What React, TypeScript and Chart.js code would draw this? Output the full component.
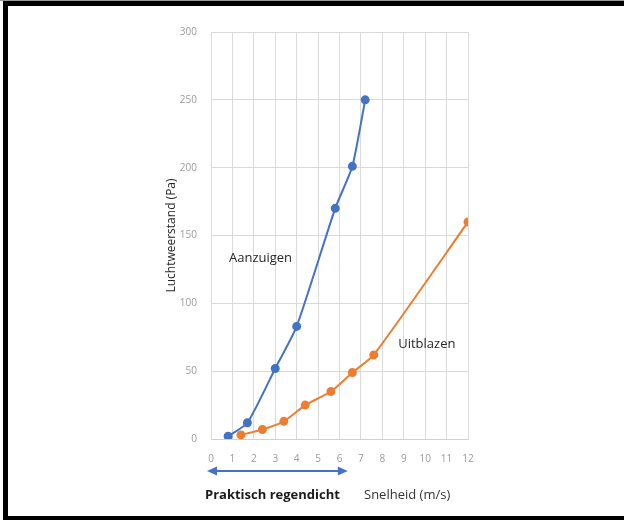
import React, { useEffect, useRef } from "react";
import { Chart, registerables } from "chart.js";

Chart.register(...registerables);

const aanzuigenX = [0.8, 1.7, 3.0, 4.0, 5.8, 6.6, 7.2];
const aanzuigenY = [2, 12, 52, 83, 170, 201, 250];
const uitblazenX = [1.4, 2.4, 3.4, 4.4, 5.6, 6.6, 7.6, 12];
const uitblazenY = [3, 7, 13, 25, 35, 49, 62, 160];
const xTicks = [0, 1, 2, 3, 4, 5, 6, 7, 8, 9, 10, 11, 12];
const yTicks = [0, 50, 100, 150, 200, 250, 300];

const BLUE = "#4472C4";
const ORANGE = "#ED7D31";
const FONT = "'Open Sans', 'Noto Sans', sans-serif";

const overlay = {
  id: "overlay",
  afterDraw(chart: any) {
    const ctx = chart.ctx;
    const xs = chart.scales.x;
    const ys = chart.scales.y;
    ctx.save();
    // series labels
    ctx.fillStyle = "#262626";
    ctx.font = `13px ${FONT}`;
    ctx.textBaseline = "middle";
    ctx.textAlign = "left";
    ctx.fillText("Aanzuigen", xs.getPixelForValue(0.84), ys.getPixelForValue(133));
    ctx.fillText("Uitblazen", xs.getPixelForValue(8.74), ys.getPixelForValue(70));

    // double arrow under x axis (0 .. 6 m/s)
    const x0 = xs.getPixelForValue(0);
    const x1 = xs.getPixelForValue(6.2);
    const ay = 471;
    ctx.strokeStyle = BLUE;
    ctx.fillStyle = BLUE;
    ctx.lineWidth = 2;
    ctx.beginPath();
    ctx.moveTo(x0 + 4, ay);
    ctx.lineTo(x1 - 4, ay);
    ctx.stroke();
    ctx.beginPath();
    ctx.moveTo(x0 - 4, ay);
    ctx.lineTo(x0 + 6, ay - 4.5);
    ctx.lineTo(x0 + 6, ay + 4.5);
    ctx.closePath();
    ctx.fill();
    ctx.beginPath();
    ctx.moveTo(x1 + 4, ay);
    ctx.lineTo(x1 - 6, ay - 4.5);
    ctx.lineTo(x1 - 6, ay + 4.5);
    ctx.closePath();
    ctx.fill();

    // bottom texts
    ctx.fillStyle = "#1a1a1a";
    ctx.font = `bold 13px ${FONT}`;
    ctx.textAlign = "left";
    ctx.fillText("Praktisch regendicht", 205, 495);
    ctx.fillStyle = "#333333";
    ctx.font = `13px ${FONT}`;
    ctx.fillText("Snelheid (m/s)", 364, 495);
    ctx.restore();
  },
};

export default function App() {
  const ref = useRef<HTMLCanvasElement | null>(null);
  useEffect(() => {
    document.body.style.margin = "0";
    const canvas = ref.current!;
    const chart = new Chart(canvas, {
      type: "scatter",
      data: {
        datasets: [
          {
            label: "Aanzuigen",
            data: aanzuigenX.map((x, i) => ({ x, y: aanzuigenY[i] })),
            showLine: true,
            borderColor: BLUE,
            backgroundColor: BLUE,
            borderWidth: 2,
            pointRadius: 3.5,
            pointHoverRadius: 3.5,
            tension: 0.2,
          },
          {
            label: "Uitblazen",
            data: uitblazenX.map((x, i) => ({ x, y: uitblazenY[i] })),
            showLine: true,
            borderColor: ORANGE,
            backgroundColor: ORANGE,
            borderWidth: 2,
            pointRadius: 3.5,
            pointHoverRadius: 3.5,
            tension: 0.2,
          },
        ],
      },
      options: {
        responsive: false,
        animation: false,
        layout: {
          autoPadding: false,
          padding: { left: 160, right: 156, top: 32, bottom: 0 },
        },
        plugins: { legend: { display: false }, tooltip: { enabled: false } },
        scales: {
          x: {
            type: "linear",
            min: 0,
            max: 12,
            afterBuildTicks: (s: any) => {
              s.ticks = xTicks.map((v) => ({ value: v }));
            },
            afterFit: (s: any) => {
              s.height = 520 - 439;
            },
            grid: { color: "#d9d9d9", drawTicks: false, lineWidth: 1 },
            border: { color: "#d0d0d0" },
            ticks: {
              padding: 14,
              color: "#9a9a9a",
              font: { family: FONT, size: 10 },
            },
          },
          y: {
            type: "linear",
            min: 0,
            max: 300,
            afterBuildTicks: (s: any) => {
              s.ticks = yTicks.map((v) => ({ value: v }));
            },
            afterFit: (s: any) => {
              s.width = 211 - 160;
            },
            grid: { color: "#d9d9d9", drawTicks: false, lineWidth: 1 },
            border: { color: "#d9d9d9" },
            ticks: {
              padding: 14,
              color: "#9a9a9a",
              font: { family: FONT, size: 10 },
            },
            title: {
              display: true,
              text: "Luchtweerstand (Pa)",
              color: "#262626",
              font: { family: FONT, size: 12 },
              padding: { top: 4, bottom: 0 },
            },
          },
        },
      },
      plugins: [overlay],
    });
    return () => chart.destroy();
  }, []);

  return (
    <div
      style={{
        position: "fixed",
        left: 0,
        top: 0,
        width: 624,
        height: 520,
        background: "#ffffff",
        boxSizing: "border-box",
        borderTop: "1px solid #9a9a9a",
      }}
    >
      <div
        style={{
          position: "absolute",
          left: 3,
          top: 0,
          width: 621,
          height: 519,
          boxSizing: "border-box",
          borderTop: "5px solid #000",
          borderLeft: "5px solid #000",
          borderBottom: "4px solid #000",
          pointerEvents: "none",
          zIndex: 2,
        }}
      />
      <canvas ref={ref} width={624} height={520} style={{ position: "absolute", left: 0, top: -1 }} />
    </div>
  );
}
